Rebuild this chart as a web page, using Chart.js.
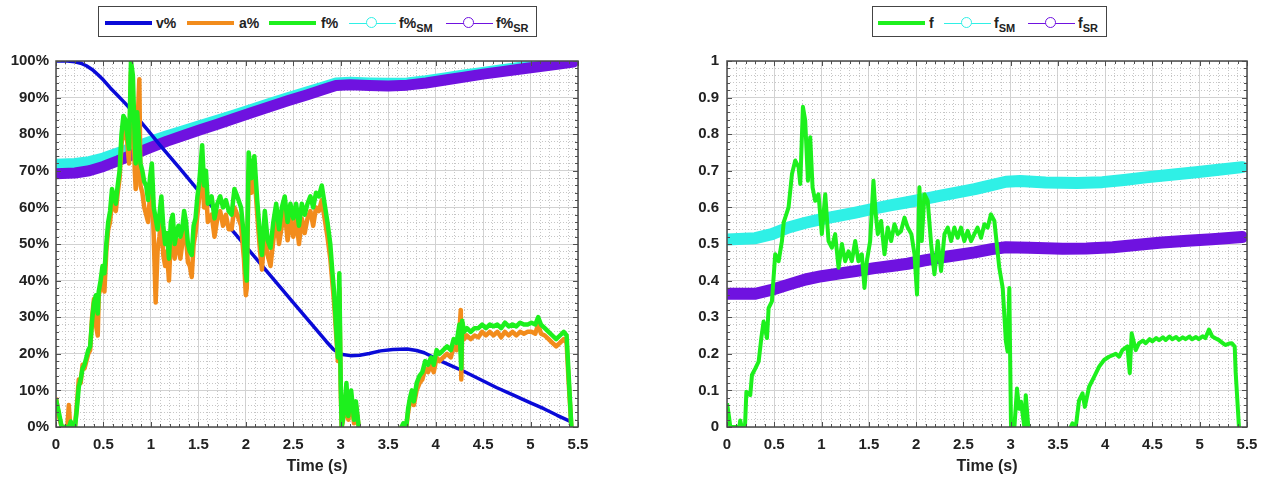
<!DOCTYPE html>
<html>
<head>
<meta charset="utf-8">
<script src="https://cdn.jsdelivr.net/npm/chart.js@4.4.1/dist/chart.umd.min.js"></script>
<style>
body{margin:0;background:#fff;font-family:"Liberation Sans",Arial,sans-serif;}
#page{position:relative;width:1273px;height:480px;overflow:hidden;background:#fff;}
canvas{position:absolute;top:0;}
.legend{position:absolute;top:6px;height:29px;border:1.5px solid #444;background:#fff;box-sizing:content-box;}
.sw{position:absolute;top:14px;height:4px;width:47px;}
.sw.thin{height:1.5px;top:15.5px;}
.sw .dot{position:absolute;left:17px;top:-5.5px;width:9px;height:9px;border-radius:50%;border:1.5px solid;background:#fff;}
.lb{position:absolute;top:8px;font-weight:bold;font-size:14px;color:#222;line-height:16px;white-space:nowrap;}
.lb sub{font-size:11px;vertical-align:-4px;line-height:0;}
</style>
</head>
<body>
<div id="page">
  <canvas id="leftChart" width="620" height="480" style="left:0"></canvas>
  <canvas id="rightChart" width="623" height="480" style="left:650px"></canvas>

  <div class="legend" style="left:98px;width:437px">
    <div class="sw" style="left:6px;background:#0a0ad8"></div><div class="lb" style="left:57px">v%</div>
    <div class="sw" style="left:88px;background:#f28c1c"></div><div class="lb" style="left:140px">a%</div>
    <div class="sw" style="left:170px;background:#1df01d"></div><div class="lb" style="left:222px">f%</div>
    <div class="sw thin" style="left:250px;background:#2ff0e6"><div class="dot" style="border-color:#2ff0e6"></div></div><div class="lb" style="left:300px">f%<sub>SM</sub></div>
    <div class="sw thin" style="left:347px;background:#6f12e0"><div class="dot" style="border-color:#6f12e0"></div></div><div class="lb" style="left:397px">f%<sub>SR</sub></div>
  </div>

  <div class="legend" style="left:872px;width:233px">
    <div class="sw" style="left:5px;background:#1df01d"></div><div class="lb" style="left:56px">f</div>
    <div class="sw thin" style="left:71px;background:#2ff0e6"><div class="dot" style="border-color:#2ff0e6"></div></div><div class="lb" style="left:121px">f<sub>SM</sub></div>
    <div class="sw thin" style="left:155px;background:#6f12e0"><div class="dot" style="border-color:#6f12e0"></div></div><div class="lb" style="left:205px">f<sub>SR</sub></div>
  </div>
</div>

<script>
// tick labels
const xTickLabels = ['0','0.5','1','1.5','2','2.5','3','3.5','4','4.5','5','5.5'];
const yTickLabelsPct = ['0%','10%','20%','30%','40%','50%','60%','70%','80%','90%','100%'];
const yTickLabelsF = ['0','0.1','0.2','0.3','0.4','0.5','0.6','0.7','0.8','0.9','1'];

// left chart: [time s, percent]
const vPct = [[0,100],[0.12,100],[0.2,99.8],[0.26,99.4],[0.32,98.7],[0.38,97.7],[0.44,96.3],[0.5,94.8],[0.57,92.7],
  [0.65,90.6],[0.72,88.7],[0.8,86.4],[0.88,83.8],[0.96,81.3],[1.1,76.9],[1.3,70.8],[1.5,64.6],[1.7,58.5],[1.9,52.4],
  [2.1,46.3],[2.3,40.1],[2.5,34.0],[2.7,27.9],[2.85,23.3],[2.92,21.3],[2.97,20.3],[3.02,19.8],[3.1,19.5],[3.2,19.6],
  [3.3,20.1],[3.42,20.8],[3.55,21.2],[3.7,21.3],[3.8,20.9],[3.88,20.3],[3.95,19.4],[4.02,18.4],[4.15,16.9],[4.29,15.3],
  [4.46,13.1],[4.64,10.8],[4.82,8.7],[5.0,6.6],[5.14,5.0],[5.28,3.2],[5.43,1.4]];

const aPct = [[0,8],[0.03,3],[0.06,0],[0.12,0],[0.135,6],[0.15,0],[0.2,0],[0.22,6],[0.24,13],[0.26,12],[0.28,17],[0.3,16],
  [0.32,18],[0.34,20],[0.36,21],[0.38,30],[0.4,35],[0.42,28],[0.44,25],[0.45,36],[0.47,38],[0.49,43],[0.51,37],[0.53,48],
  [0.55,54],[0.57,56],[0.59,62],[0.61,60],[0.63,59],[0.65,64],[0.67,68],[0.69,77],[0.71,83],[0.73,80],[0.75,78],[0.77,72],
  [0.79,97],[0.81,88],[0.83,70],[0.84,65],[0.855,80],[0.878,95],[0.89,66],[0.91,64],[0.93,60],[0.95,58],[0.97,56],[0.99,63],
  [1.01,66],[1.03,52],[1.05,34],[1.07,48],[1.09,52],[1.11,58],[1.13,47],[1.15,44],[1.17,48],[1.19,40],[1.21,52],[1.23,54],
  [1.25,46],[1.27,49],[1.29,51],[1.31,46],[1.33,50],[1.35,55],[1.37,52],[1.39,45],[1.41,44],[1.43,41],[1.45,50],[1.47,53],
  [1.49,58],[1.51,63],[1.54,73],[1.56,60],[1.58,65],[1.6,56],[1.62,57],[1.64,58],[1.67,52],[1.7,57],[1.73,59],[1.76,55],
  [1.79,58],[1.82,54],[1.85,54],[1.88,60],[1.91,58],[1.95,55],[1.98,46],[2.0,36],[2.01,38],[2.03,70],[2.05,66],[2.06,64],
  [2.09,70],[2.12,58],[2.15,48],[2.17,43],[2.2,54],[2.23,47],[2.26,44],[2.29,51],[2.32,57],[2.35,50],[2.38,55],[2.41,59],
  [2.44,51],[2.47,57],[2.5,52],[2.53,57],[2.56,50],[2.59,57],[2.62,53],[2.65,57],[2.68,59],[2.71,55],[2.74,60],[2.77,59],
  [2.8,62],[2.83,57],[2.86,52],[2.89,46],[2.91,40],[2.93,34],[2.95,26],[2.97,18],[2.985,38],[3.0,10],[3.01,0],[3.04,4],
  [3.06,10],[3.08,2],[3.11,8],[3.14,1],[3.16,6],[3.19,0],[3.21,-3],[3.62,-3],[3.64,0],[3.69,0],[3.71,4],[3.73,7],[3.75,9],
  [3.77,6],[3.8,10],[3.83,12],[3.86,13],[3.89,16],[3.92,15],[3.95,17],[3.98,15],[4.01,19],[4.04,18],[4.08,19],[4.12,20],
  [4.16,19],[4.19,22],[4.22,21],[4.25,26],[4.265,32],[4.27,13],[4.28,27],[4.3,24],[4.33,25],[4.37,24],[4.41,25],[4.45,24.5],
  [4.49,26],[4.53,25],[4.57,26],[4.61,25],[4.65,26],[4.69,24.5],[4.73,26],[4.77,25],[4.81,26],[4.85,25],[4.89,26],[4.93,25.5],
  [4.97,26],[5.01,26],[5.05,25.5],[5.08,28],[5.11,25.5],[5.15,25],[5.19,24],[5.23,23],[5.27,22],[5.31,23],[5.35,24],[5.38,23],
  [5.4,13],[5.43,0]];

const fPct = [[0,7.5],[0.03,4],[0.06,0],[0.14,0],[0.155,1.5],[0.17,0],[0.2,0],[0.22,5],[0.24,11],[0.26,13],[0.28,16],[0.3,17],
  [0.32,19],[0.34,21],[0.36,22],[0.38,29],[0.4,34],[0.42,36],[0.44,31],[0.45,37],[0.47,40],[0.49,44],[0.51,42],[0.53,50],
  [0.55,56],[0.57,59],[0.59,65],[0.61,63],[0.63,61],[0.65,66],[0.67,70],[0.69,80],[0.71,85],[0.73,84],[0.75,80],[0.77,76],
  [0.79,100],[0.81,96],[0.83,78],[0.84,72],[0.855,86],[0.87,80],[0.89,72],[0.91,70],[0.93,67],[0.95,66],[0.97,62],[0.99,68],
  [1.01,72],[1.03,60],[1.05,57],[1.07,54],[1.09,58],[1.11,63],[1.13,55],[1.15,50],[1.17,53],[1.19,46],[1.21,56],[1.23,58],
  [1.25,50],[1.27,53],[1.29,55],[1.31,52],[1.33,54],[1.35,59],[1.37,56],[1.39,50],[1.41,48],[1.43,47],[1.45,55],[1.47,57],
  [1.49,63],[1.51,67],[1.54,77],[1.56,66],[1.58,70],[1.6,61],[1.62,62],[1.64,63],[1.67,57],[1.7,61],[1.73,63],[1.76,60],
  [1.79,62],[1.82,59],[1.85,58],[1.88,65],[1.91,63],[1.95,60],[1.98,52],[2.0,42],[2.01,40],[2.03,75],[2.05,70],[2.06,68],
  [2.09,74],[2.12,62],[2.15,52],[2.17,47],[2.2,59],[2.23,51],[2.26,49],[2.29,56],[2.32,61],[2.35,54],[2.38,60],[2.41,63],
  [2.44,56],[2.47,61],[2.5,57],[2.53,61],[2.56,55],[2.59,61],[2.62,58],[2.65,61],[2.68,63],[2.71,60],[2.74,64],[2.77,63],
  [2.8,66],[2.83,61],[2.86,56],[2.89,50],[2.91,43],[2.93,37],[2.95,28],[2.97,19],[2.985,42],[3.0,12],[3.01,0],[3.04,5],
  [3.06,12],[3.08,3],[3.11,10],[3.14,2],[3.16,7],[3.19,0],[3.21,-3],[3.62,-3],[3.64,0],[3.66,1],[3.69,0],[3.71,5],[3.73,8],
  [3.75,10],[3.77,7],[3.8,12],[3.83,14],[3.86,15],[3.89,18],[3.92,17],[3.95,19],[3.98,17],[4.01,21],[4.04,20],[4.08,21],
  [4.12,22],[4.16,21],[4.19,24],[4.22,23],[4.25,28],[4.27,16],[4.28,29],[4.3,26],[4.33,27],[4.37,26],[4.41,27],[4.45,27],
  [4.49,28],[4.53,27],[4.57,28],[4.61,27.5],[4.65,28],[4.69,27],[4.73,28.5],[4.77,27.5],[4.81,28],[4.85,27.5],[4.89,28.5],
  [4.93,28],[4.97,28],[5.01,28.5],[5.05,28],[5.08,30],[5.11,28],[5.15,27],[5.19,26],[5.23,25],[5.27,24],[5.31,25],[5.35,26],
  [5.38,25],[5.4,15],[5.43,0]];

const smPct = [[0,71.8],[0.2,72.0],[0.35,72.5],[0.5,73.5],[0.65,74.9],[0.815,76.4],[1.0,78.1],[1.17,79.6],[1.35,81.0],
  [1.52,82.4],[1.7,83.8],[1.87,85.2],[2.05,86.7],[2.25,88.4],[2.45,90.0],[2.65,91.6],[2.85,93.2],[2.95,94.0],[3.1,94.2],
  [3.3,94.0],[3.5,93.9],[3.7,94.0],[3.9,94.6],[4.1,95.4],[4.3,96.2],[4.5,96.9],[4.7,97.6],[4.9,98.3],[5.1,98.9],[5.3,99.5],[5.45,100]];

const srPct = [[0,69.2],[0.2,69.4],[0.35,70.0],[0.5,71.2],[0.65,72.7],[0.815,74.5],[1.0,76.4],[1.17,78.1],[1.35,79.7],
  [1.52,81.2],[1.7,82.7],[1.87,84.2],[2.05,85.8],[2.25,87.5],[2.45,89.2],[2.65,90.8],[2.85,92.5],[2.95,93.3],[3.1,93.5],
  [3.3,93.3],[3.5,93.2],[3.7,93.4],[3.9,94.0],[4.1,94.8],[4.3,95.6],[4.5,96.4],[4.7,97.1],[4.9,97.8],[5.1,98.5],[5.3,99.2],[5.45,99.7]];

// right chart: [time s, value]
const fVal = [[0,0.065],[0.02,0.03],[0.035,0],[0.13,0],[0.14,0.018],[0.155,0],[0.19,0],[0.205,0.096],[0.23,0.09],[0.246,0.087],
  [0.264,0.142],[0.3,0.16],[0.335,0.179],[0.363,0.243],[0.387,0.288],[0.41,0.26],[0.423,0.243],[0.44,0.325],[0.475,0.343],
  [0.51,0.472],[0.546,0.453],[0.581,0.508],[0.6,0.56],[0.616,0.572],[0.651,0.6],[0.687,0.691],[0.722,0.728],[0.757,0.71],
  [0.775,0.664],[0.803,0.875],[0.827,0.838],[0.856,0.673],[0.88,0.792],[0.905,0.655],[0.933,0.618],[0.968,0.636],[1.003,0.527],
  [1.039,0.636],[1.074,0.508],[1.109,0.49],[1.144,0.527],[1.18,0.435],[1.215,0.5],[1.25,0.453],[1.285,0.48],[1.32,0.453],
  [1.356,0.508],[1.39,0.453],[1.426,0.472],[1.454,0.38],[1.479,0.453],[1.514,0.508],[1.549,0.673],[1.57,0.59],[1.595,0.527],
  [1.63,0.563],[1.666,0.472],[1.7,0.545],[1.736,0.508],[1.771,0.554],[1.806,0.527],[1.84,0.535],[1.877,0.572],[1.912,0.545],
  [1.95,0.527],[1.983,0.472],[2.01,0.362],[2.035,0.655],[2.06,0.508],[2.088,0.636],[2.123,0.618],[2.159,0.5],[2.194,0.417],
  [2.229,0.508],[2.264,0.426],[2.3,0.527],[2.335,0.545],[2.37,0.508],[2.405,0.545],[2.44,0.517],[2.475,0.545],[2.51,0.508],
  [2.546,0.536],[2.581,0.508],[2.616,0.527],[2.65,0.545],[2.687,0.517],[2.722,0.554],[2.757,0.545],[2.792,0.581],[2.828,0.563],
  [2.85,0.508],[2.88,0.435],[2.916,0.38],[2.95,0.234],[2.968,0.206],[2.986,0.38],[3.004,0],[3.04,0],[3.067,0.105],[3.09,0.05],
  [3.11,0.069],[3.145,0],[3.16,0.087],[3.187,0],[3.2,-0.03],[3.62,-0.03],[3.636,0],[3.654,0.01],[3.689,0],[3.724,0.073],
  [3.76,0.092],[3.785,0.055],[3.83,0.11],[3.883,0.137],[3.936,0.165],[3.988,0.183],[4.04,0.192],[4.112,0.2],[4.147,0.192],
  [4.182,0.21],[4.235,0.22],[4.26,0.147],[4.28,0.256],[4.323,0.21],[4.358,0.229],[4.4,0.236],[4.429,0.229],[4.47,0.24],
  [4.5,0.234],[4.54,0.243],[4.57,0.237],[4.61,0.245],[4.64,0.238],[4.68,0.247],[4.71,0.24],[4.75,0.246],[4.78,0.238],
  [4.82,0.245],[4.85,0.24],[4.89,0.247],[4.92,0.24],[4.96,0.246],[4.99,0.24],[5.03,0.248],[5.06,0.243],[5.098,0.266],
  [5.133,0.247],[5.17,0.242],[5.2,0.238],[5.24,0.23],[5.27,0.224],[5.31,0.228],[5.34,0.229],[5.37,0.22],[5.38,0.15],[5.415,0]];

const smVal = [[0,0.512],[0.3,0.516],[0.475,0.527],[0.65,0.545],[0.83,0.558],[1.0,0.568],[1.18,0.577],[1.36,0.586],[1.56,0.597],
  [1.74,0.606],[1.91,0.614],[2.09,0.623],[2.26,0.632],[2.44,0.641],[2.62,0.65],[2.8,0.661],[2.95,0.67],[3.1,0.672],[3.37,0.668],
  [3.7,0.667],[3.97,0.669],[4.2,0.675],[4.43,0.682],[4.7,0.689],[4.96,0.696],[5.2,0.703],[5.45,0.71]];

const srVal = [[0,0.364],[0.3,0.364],[0.475,0.375],[0.65,0.389],[0.83,0.403],[1.0,0.412],[1.18,0.419],[1.36,0.426],[1.56,0.434],
  [1.74,0.44],[1.91,0.446],[2.09,0.455],[2.26,0.463],[2.44,0.47],[2.62,0.477],[2.8,0.486],[2.95,0.491],[3.2,0.49],[3.55,0.487],
  [3.8,0.488],[4.08,0.491],[4.35,0.498],[4.6,0.504],[4.87,0.509],[5.13,0.513],[5.45,0.519]];

Chart.defaults.font.family = '"Liberation Sans", Arial, sans-serif';
Chart.defaults.color = '#222';

const pts = arr => arr.map(p => ({x: p[0], y: p[1]}));

function line(data, color, width, thick) {
    return {
        data: pts(data),
        borderColor: color,
        borderWidth: width,
        pointRadius: 0,
        tension: 0,
        fill: false,
        clip: 0,
        borderCapStyle: thick ? 'round' : 'butt',
        borderJoinStyle: 'round'
    };
}

// box + inward tick marks like the original figure
function framePlugin(xMajor, yMajor) {
    return {
        id: 'frame',
        afterDatasetsDraw(chart) {
            const ctx = chart.ctx;
            const a = chart.chartArea;
            const sx = chart.scales.x, sy = chart.scales.y;
            ctx.save();
            ctx.strokeStyle = '#505050';
            ctx.lineWidth = 1;
            ctx.beginPath();
            sx.ticks.forEach(t => {
                const px = Math.round(sx.getPixelForValue(t.value)) + 0.5;
                const len = xMajor(t.value) ? 5 : 3;
                ctx.moveTo(px, a.top); ctx.lineTo(px, a.top + len);
                ctx.moveTo(px, a.bottom); ctx.lineTo(px, a.bottom - len);
            });
            sy.ticks.forEach(t => {
                const py = Math.round(sy.getPixelForValue(t.value)) + 0.5;
                const len = yMajor(t.value) ? 5 : 3;
                ctx.moveTo(a.left, py); ctx.lineTo(a.left + len, py);
                ctx.moveTo(a.right, py); ctx.lineTo(a.right - len, py);
            });
            ctx.stroke();
            ctx.lineWidth = 1.5;
            ctx.strokeStyle = '#4a4a4a';
            ctx.strokeRect(a.left, a.top, a.width, a.height);
            ctx.restore();
        }
    };
}

const tickFont = {size: 15, weight: 'bold'};
const xMajor = v => Math.round(v * 10) % 5 === 0;

function makeChart(id, datasets, yMax, yStep, yMajor, yLabel, yWidth, yPad, padRight) {
    return new Chart(document.getElementById(id).getContext('2d'), {
        type: 'line',
        data: {datasets: datasets},
        plugins: [framePlugin(xMajor, yMajor)],
        options: {
            responsive: false,
            animation: false,
            layout: {padding: {top: 61, right: padRight, left: 0, bottom: 0}},
            plugins: {legend: {display: false}, tooltip: {enabled: false}},
            scales: {
                x: {
                    type: 'linear', min: 0, max: 5.5,
                    ticks: {
                        stepSize: 0.1, autoSkip: false, maxRotation: 0, padding: 9,
                        font: tickFont, color: '#222',
                        callback: v => xMajor(v) ? xTickLabels[Math.round(v * 2)] : ''
                    },
                    grid: {
                        drawTicks: false,
                        color: c => xMajor(c.tick.value) ? '#d2d2d2' : '#c6c6c6',
                        lineWidth: 1
                    },
                    border: {display: false, dash: c => xMajor(c.tick.value) ? [] : [1, 2]},
                    title: {display: true, text: 'Time (s)', font: {size: 16, weight: 'bold'}, color: '#222', padding: {top: 0, bottom: 4}},
                    afterFit: s => { s.height = 53; }
                },
                y: {
                    min: 0, max: yMax,
                    ticks: {
                        stepSize: yStep, autoSkip: false, padding: yPad,
                        font: tickFont, color: '#222',
                        callback: v => yLabel(v)
                    },
                    grid: {
                        drawTicks: false,
                        color: c => yMajor(c.tick.value) ? '#d2d2d2' : '#c6c6c6',
                        lineWidth: 1
                    },
                    border: {display: false, dash: c => yMajor(c.tick.value) ? [] : [1, 2]},
                    afterFit: s => { s.width = yWidth; }
                }
            }
        }
    });
}

const pctMajor = v => Math.round(v / 2) % 5 === 0;
const fMajor = v => Math.round(v * 50) % 5 === 0;

// Chart.js paints dataset 0 last (on top), so the list runs top to bottom
makeChart('leftChart', [
    line(fPct, '#1df01d', 4.5),
    line(aPct, '#f28c1c', 4.5),
    line(vPct, '#0a0ad8', 3.5),
    line(srPct, '#6f12e0', 11, true),
    line(smPct, '#2ff0e6', 11, true)
], 100, 2, pctMajor, v => pctMajor(v) ? yTickLabelsPct[Math.round(v / 10)] : '', 56, 7, 42);

makeChart('rightChart', [
    line(fVal, '#1df01d', 4),
    line(srVal, '#6f12e0', 12, true),
    line(smVal, '#2ff0e6', 12, true)
], 1, 0.02, fMajor, v => fMajor(v) ? yTickLabelsF[Math.round(v * 10)] : '', 77, 8, 26);
</script>
</body>
</html>
